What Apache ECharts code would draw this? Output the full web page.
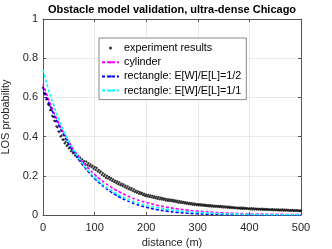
<!DOCTYPE html>
<html><head><meta charset="utf-8">
<script src="https://cdn.jsdelivr.net/npm/echarts@6/dist/echarts.min.js"></script>
<style>html,body{margin:0;padding:0;background:#fff}#c{width:332px;height:249px}</style>
</head><body><div id="c"></div>
<script>
const titleText = 'Obstacle model validation, ultra-dense Chicago';
const seriesNames = ['experiment results','cylinder','rectangle: E[W]/E[L]=1/2','rectangle: E[W]/E[L]=1/1'];
const xTicks = [0,100,200,300,400,500];
const yTicks = [0,0.2,0.4,0.6,0.8,1];

const expDist = [
0,2,4,6,8,10,12,14,16,18,20,22,24,26,28,30,32,34,36,38,40,42,44,46,48,
50,52,54,56,58,60,62,64,66,68,70,72,74,76,78,80,82,84,86,88,90,92,94,96,98,
100,102,104,106,108,110,112,114,116,118,120,122,124,126,128,130,132,134,136,138,140,142,144,146,148,
150,152,154,156,158,160,162,164,166,168,170,172,174,176,178,180,182,184,186,188,190,192,194,196,198,
200,202,204,206,208,210,212,214,216,218,220,222,224,226,228,230,232,234,236,238,240,242,244,246,248,
250,252,254,256,258,260,262,264,266,268,270,272,274,276,278,280,282,284,286,288,290,292,294,296,298,
300,302,304,306,308,310,312,314,316,318,320,322,324,326,328,330,332,334,336,338,340,342,344,346,348,
350,352,354,356,358,360,362,364,366,368,370,372,374,376,378,380,382,384,386,388,390,392,394,396,398,
400,402,404,406,408,410,412,414,416,418,420,422,424,426,428,430,432,434,436,438,440,442,444,446,448,
450,452,454,456,458,460,462,464,466,468,470,472,474,476,478,480,482,484,486,488,490,492,494,496,498,
500];
const expLOS = [
0.65,0.62,0.615,0.59,0.59,0.565,
0.56,0.535,0.535,0.505,0.50,
0.48,0.478,0.452,0.448,0.425,
0.425,0.40,0.405,0.385,0.384,
0.365,0.372,0.352,0.358,0.34,
0.345,0.325,0.333,0.315,0.32,
0.304,0.312,0.295,0.302,0.285,
0.292,0.276,0.284,0.268,0.275,
0.26,0.272,0.255,0.265,0.25,
0.258,0.244,0.252,0.236,0.245,
0.23,0.24,0.222,0.23,0.215,
0.222,0.205,0.214,0.198,0.206,
0.19,0.2,0.186,0.194,0.18,
0.188,0.174,0.182,0.168,0.175,
0.162,0.171,0.157,0.166,0.152,
0.16,0.148,0.156,0.142,0.15,
0.137,0.146,0.132,0.14,0.128,
0.136,0.122,0.13,0.117,0.124,
0.113,0.121,0.109,0.117,0.106,
0.113,0.101,0.108,0.097,0.104,
0.095,0.103,0.092,0.1,0.09,
0.098,0.087,0.095,0.085,0.092,
0.082,0.091,0.08,0.088,0.079,
0.086,0.077,0.084,0.074,0.081,
0.072,0.08,0.071,0.078,0.07,
0.077,0.068,0.075,0.066,0.073,
0.063,0.071,0.062,0.069,0.061,
0.067,0.059,0.065,0.057,0.063,
0.055,0.062,0.054,0.06,0.052,
0.059,0.051,0.057,0.05,0.055,
0.049,0.055,0.048,0.054,0.047,
0.053,0.046,0.052,0.045,0.05,
0.044,0.05,0.043,0.049,0.042,
0.048,0.042,0.047,0.041,0.046,
0.04,0.046,0.039,0.045,0.038,
0.044,0.038,0.043,0.037,0.042,
0.036,0.041,0.035,0.04,0.034,
0.039,0.034,0.038,0.033,0.037,
0.032,0.038,0.031,0.037,0.031,
0.036,0.031,0.035,0.03,0.034,
0.029,0.035,0.028,0.034,0.028,
0.033,0.028,0.032,0.027,0.031,
0.027,0.032,0.026,0.031,0.026,
0.031,0.026,0.03,0.025,0.029,
0.025,0.03,0.024,0.029,0.024,
0.029,0.024,0.028,0.023,0.027,
0.023,0.028,0.022,0.027,0.022,
0.027,0.022,0.026,0.021,0.025,
0.021,0.026,0.02,0.025,0.02,
0.025,0.02,0.024,0.019,0.023];

const modelDist = [0,10,20,30,40,50,60,70,80,90,100,110,120,130,140,150,160,170,180,190,200,220,240,260,280,300,350,400,450,500];
const cylinder = [0.67,0.596,0.53,0.472,0.419,0.373,0.331,0.294,0.262,0.233,0.207,0.184,0.164,0.146,0.129,0.115,0.102,0.0907,0.0807,0.0717,0.0638,0.0504,0.0399,0.0315,0.0249,0.0197,0.0109,0.006,0.0034,0.0018];
const rectHalf = [0.65,0.581,0.519,0.461,0.409,0.361,0.318,0.279,0.245,0.214,0.186,0.162,0.14,0.121,0.104,0.0892,0.0763,0.065,0.0553,0.0469,0.0396,0.028,0.0196,0.0135,0.0092,0.0062,0.0022,0.0007,0.0002,0.0001];
const rectOne = [0.74,0.646,0.565,0.494,0.431,0.377,0.329,0.288,0.251,0.22,0.192,0.168,0.146,0.128,0.112,0.0975,0.085,0.0745,0.065,0.057,0.0497,0.038,0.029,0.022,0.0169,0.0129,0.0066,0.0033,0.0017,0.0009];

const FONT = "'Liberation Sans', Arial, Helvetica, sans-serif";
const pairs = (xs, ys) => xs.map((x, i) => [x, ys[i]]);
const axisCol = '#555';
const xMin = xTicks[0], xMax = xTicks[xTicks.length-1], xInt = xTicks[1]-xTicks[0];
const yMin = yTicks[0], yMax = yTicks[yTicks.length-1], yInt = yTicks[1]-yTicks[0];

const chart = echarts.init(document.getElementById('c'), null, {renderer:'canvas'});
const lineSeries = (name, data, color) => ({
  name, type:'line', data: pairs(modelDist, data), smooth:true, symbol:'none',
  xAxisIndex:0, yAxisIndex:0,
  lineStyle:{color, width:1.6, type:[3,2]}, itemStyle:{color}, z:3, animation:false
});
chart.setOption({
  animation:false,
  backgroundColor:'#fff',
  title:{text:titleText, left:172, textAlign:'center', top:4, padding:0,
    textStyle:{fontFamily:FONT, fontSize:11, fontWeight:'bold', color:'#000'}},
  grid:{left:43, right:31, top:19, bottom:34, containLabel:false, outerBoundsMode:'none'},
  legend:{
    orient:'vertical', left:99, top:38, padding:[4,5,3,2], itemGap:2.2,
    itemWidth:17, itemHeight:3, backgroundColor:'#fff', borderColor:'#888', borderWidth:1,
    textStyle:{fontFamily:FONT, fontSize:10.8, color:'#000', lineHeight:12},
    data:[{name:seriesNames[0], icon:'circle'}, seriesNames[1], seriesNames[2], seriesNames[3]]
  },
  xAxis:[{
    type:'value', min:xMin, max:xMax, interval:xInt, name:'distance (m)', nameLocation:'middle', nameGap:21,
    nameTextStyle:{fontFamily:FONT, fontSize:11, color:'#262626'},
    axisLine:{show:true, onZero:false, lineStyle:{color:axisCol, width:1}},
    axisTick:{show:true, inside:true, length:3, lineStyle:{color:axisCol}},
    axisLabel:{fontFamily:FONT, fontSize:11, color:'#262626', margin:7},
    splitLine:{show:true, lineStyle:{color:'#e9e9e9', width:1}}
  },{
    type:'value', position:'top', min:xMin, max:xMax, interval:xInt,
    axisLine:{show:true, onZero:false, lineStyle:{color:axisCol, width:1}},
    axisTick:{show:true, inside:true, length:3, lineStyle:{color:axisCol}},
    axisLabel:{show:false}, splitLine:{show:false}
  }],
  yAxis:[{
    type:'value', min:yMin, max:yMax, interval:yInt, name:'LOS probability', nameLocation:'middle', nameGap:26,
    nameTextStyle:{fontFamily:FONT, fontSize:11, color:'#262626'},
    axisLine:{show:true, onZero:false, lineStyle:{color:axisCol, width:1}},
    axisTick:{show:true, inside:true, length:3, lineStyle:{color:axisCol}},
    axisLabel:{fontFamily:FONT, fontSize:11, color:'#262626', margin:5},
    splitLine:{show:true, lineStyle:{color:'#e9e9e9', width:1}}
  },{
    type:'value', position:'right', min:yMin, max:yMax, interval:yInt,
    axisLine:{show:true, onZero:false, lineStyle:{color:axisCol, width:1}},
    axisTick:{show:true, inside:true, length:3, lineStyle:{color:axisCol}},
    axisLabel:{show:false}, splitLine:{show:false}
  }],
  series:[
    {name:seriesNames[0], type:'scatter', data:pairs(expDist, expLOS), symbol:'circle', symbolSize:2.3,
      itemStyle:{color:'#000'}, xAxisIndex:0, yAxisIndex:0, z:2, animation:false},
    lineSeries(seriesNames[1], cylinder, '#ff00ff'),
    lineSeries(seriesNames[2], rectHalf, '#0000ff'),
    lineSeries(seriesNames[3], rectOne, '#00ffff')
  ]
});
</script></body></html>
